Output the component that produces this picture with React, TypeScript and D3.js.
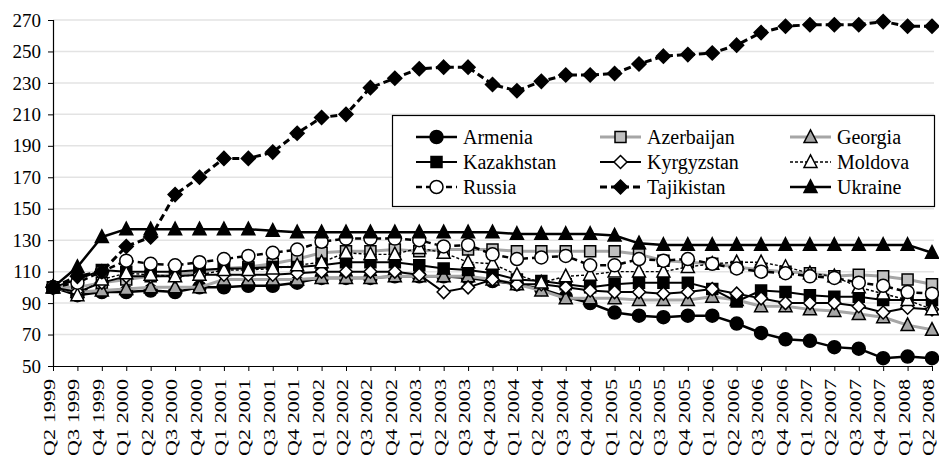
import { useEffect, useRef } from "react";
import * as d3 from "d3";

// ---- data ----
const quarters = [
  "Q2 1999", "Q3 1999", "Q4 1999", "Q1 2000", "Q2 2000", "Q3 2000", "Q4 2000",
  "Q1 2001", "Q2 2001", "Q3 2001", "Q4 2001", "Q1 2002", "Q2 2002", "Q3 2002",
  "Q4 2002", "Q1 2003", "Q2 2003", "Q3 2003", "Q4 2003", "Q1 2004", "Q2 2004",
  "Q3 2004", "Q4 2004", "Q1 2005", "Q2 2005", "Q3 2005", "Q4 2005", "Q1 2006",
  "Q2 2006", "Q3 2006", "Q4 2006", "Q1 2007", "Q2 2007", "Q3 2007", "Q4 2007",
  "Q1 2008", "Q2 2008",
];

const yTicks = [50, 70, 90, 110, 130, 150, 170, 190, 210, 230, 250, 270];

const armenia = [100, 95, 97, 97, 98, 97, 100, 100, 101, 101, 103, 106, 106, 106, 107, 107, 107, 106, 104, 102, 99, 94, 90, 84, 82, 81, 82, 82, 77, 71, 67, 66, 62, 61, 55, 56, 55];
const azerbaijan = [100, 100, 103, 105, 107, 108, 110, 112, 113, 115, 118, 122, 123, 123, 124, 123, 124, 124, 124, 123, 123, 123, 123, 123, 121, 117, 116, 115, 113, 111, 110, 109, 107, 108, 107, 105, 102];
const georgia = [100, 97, 98, 99, 100, 100, 100, 105, 105, 105, 105, 106, 106, 106, 107, 107, 107, 107, 105, 102, 98, 93, 93, 93, 92, 92, 92, 94, 92, 88, 88, 86, 85, 83, 81, 76, 73];
const kazakhstan = [100, 105, 111, 110, 110, 110, 111, 112, 112, 113, 113, 114, 116, 116, 116, 114, 112, 111, 109, 105, 104, 102, 100, 102, 103, 103, 103, 99, 91, 98, 97, 95, 94, 94, 92, 92, 92];
const kyrgyzstan = [100, 97, 103, 107, 107, 107, 108, 108, 108, 108, 109, 110, 110, 110, 110, 108, 97, 100, 105, 102, 102, 100, 98, 97, 97, 96, 97, 99, 96, 93, 90, 90, 90, 88, 84, 87, 86];
const moldova = [100, 95, 105, 109, 108, 107, 108, 111, 111, 112, 114, 116, 122, 121, 121, 125, 122, 116, 115, 108, 103, 107, 108, 110, 110, 110, 113, 115, 116, 116, 113, 109, 107, 100, 96, 92, 86];
const russia = [100, 103, 110, 117, 115, 114, 116, 118, 120, 122, 124, 129, 131, 131, 131, 130, 126, 127, 121, 118, 119, 120, 114, 114, 118, 117, 118, 115, 112, 110, 109, 107, 106, 103, 101, 97, 96];
const tajikistan = [100, 107, 110, 126, 132, 159, 170, 182, 182, 186, 198, 208, 210, 227, 233, 239, 240, 240, 229, 225, 231, 235, 235, 236, 242, 247, 248, 249, 254, 262, 266, 267, 267, 267, 269, 266, 266];
const ukraine = [100, 113, 132, 137, 137, 137, 137, 137, 137, 136, 135, 135, 135, 135, 135, 135, 135, 135, 135, 134, 134, 134, 134, 133, 128, 127, 127, 127, 127, 127, 127, 127, 127, 127, 127, 127, 122];

type Sym = "circle" | "square" | "triangle" | "diamond";
interface Series {
  name: string;
  values: number[];
  stroke: string;
  width: number;
  dash: string | null;
  symbol: Sym;
  fill: string;
  size: number;
}

const series: Series[] = [
  { name: "Armenia", values: armenia, stroke: "#000", width: 2.5, dash: null, symbol: "circle", fill: "#000", size: 13 },
  { name: "Azerbaijan", values: azerbaijan, stroke: "#a6a6a6", width: 3, dash: null, symbol: "square", fill: "#c0c0c0", size: 11 },
  { name: "Georgia", values: georgia, stroke: "#a6a6a6", width: 3, dash: null, symbol: "triangle", fill: "#a6a6a6", size: 13 },
  { name: "Kazakhstan", values: kazakhstan, stroke: "#000", width: 2, dash: null, symbol: "square", fill: "#000", size: 11 },
  { name: "Kyrgyzstan", values: kyrgyzstan, stroke: "#000", width: 2, dash: null, symbol: "diamond", fill: "#fff", size: 12 },
  { name: "Moldova", values: moldova, stroke: "#000", width: 1.4, dash: "3,2", symbol: "triangle", fill: "#fff", size: 13 },
  { name: "Russia", values: russia, stroke: "#000", width: 2.5, dash: "6,4", symbol: "circle", fill: "#fff", size: 13 },
  { name: "Tajikistan", values: tajikistan, stroke: "#000", width: 3, dash: "7,4", symbol: "diamond", fill: "#000", size: 13 },
  { name: "Ukraine", values: ukraine, stroke: "#000", width: 2.5, dash: null, symbol: "triangle", fill: "#000", size: 13 },
];

function markerPath(sym: Sym, s: number): string {
  const h = s / 2;
  if (sym === "circle") return d3.symbol(d3.symbolCircle, Math.PI * h * h)() as string;
  if (sym === "square") return `M${-h},${-h}H${h}V${h}H${-h}Z`;
  if (sym === "diamond") return `M0,${-h - 0.5}L${h + 0.5},0L0,${h + 0.5}L${-h - 0.5},0Z`;
  return `M0,${-s * 0.55}L${h},${s * 0.42}L${-h},${s * 0.42}Z`;
}

const FONT = '"Liberation Serif", "DejaVu Serif", serif';

export default function App() {
  const ref = useRef<SVGSVGElement>(null);

  useEffect(() => {
    const svg = d3.select(ref.current);
    svg.selectAll("*").remove();

    const left = 53, right = 932, top = 20, bottom = 366;
    const x = d3.scalePoint<number>().domain(d3.range(quarters.length)).range([left, right]);
    const y = d3.scaleLinear().domain([50, 270]).range([bottom, top]);

    // gridlines
    svg.append("g")
      .selectAll("line")
      .data(yTicks.slice(1))
      .join("line")
      .attr("x1", left).attr("x2", right + 2)
      .attr("y1", d => y(d)).attr("y2", d => y(d))
      .attr("stroke", "#e3e3e3").attr("stroke-width", 1.5);

    // y axis
    const yAxis = svg.append("g")
      .attr("transform", `translate(${left},0)`)
      .call(d3.axisLeft(y).tickValues(yTicks).tickSize(5).tickPadding(7));
    yAxis.attr("font-family", null);
    yAxis.select(".domain").attr("stroke", "#000").attr("stroke-width", 1.2);
    yAxis.selectAll(".tick line").attr("stroke", "#000");
    yAxis.selectAll(".tick text")
      .style("font-family", FONT).style("font-size", "19px").attr("fill", "#000");

    // x axis
    const xAxis = svg.append("g")
      .attr("transform", `translate(0,${bottom})`)
      .call(d3.axisBottom(x).tickSize(5).tickSizeOuter(0).tickFormat(() => ""));
    xAxis.select(".domain").attr("stroke", "#000").attr("stroke-width", 1.2);
    xAxis.selectAll(".tick line").attr("stroke", "#000");

    svg.append("g")
      .selectAll("text")
      .data(quarters)
      .join("text")
      .attr("transform", (_, i) => `translate(${(x(i) as number) + 2},${bottom + 13}) rotate(-90)`)
      .attr("text-anchor", "end")
      .style("font-family", FONT)
      .style("font-size", "16px")
      .attr("textLength", 77)
      .attr("lengthAdjust", "spacingAndGlyphs")
      .text(d => d);

    // series
    const line = d3.line<number>().x((_, i) => x(i) as number).y(d => y(d));
    series.forEach(s => {
      const g = svg.append("g");
      g.append("path")
        .datum(s.values)
        .attr("fill", "none")
        .attr("stroke", s.stroke)
        .attr("stroke-width", s.width)
        .attr("stroke-dasharray", s.dash)
        .attr("stroke-linejoin", "round")
        .attr("d", line);
      g.selectAll("path.m")
        .data(s.values)
        .join("path")
        .attr("class", "m")
        .attr("transform", (d, i) => `translate(${x(i)},${y(d)})`)
        .attr("d", markerPath(s.symbol, s.size))
        .attr("fill", s.fill)
        .attr("stroke", "#000")
        .attr("stroke-width", 1.5);
    });

    // legend
    const lg = svg.append("g");
    lg.append("rect")
      .attr("x", 392.5).attr("y", 115.5).attr("width", 542).attr("height", 91)
      .attr("fill", "#fff").attr("stroke", "#000").attr("stroke-width", 1.2);
    const colX = [416, 600, 790];
    const rowY = [137, 162, 187];
    series.forEach((s, k) => {
      const cx = colX[k % 3], cy = rowY[Math.floor(k / 3)];
      lg.append("line")
        .attr("x1", cx).attr("x2", cx + 41).attr("y1", cy).attr("y2", cy)
        .attr("stroke", s.stroke).attr("stroke-width", s.width)
        .attr("stroke-dasharray", s.dash);
      lg.append("path")
        .attr("transform", `translate(${cx + 20.5},${cy})`)
        .attr("d", markerPath(s.symbol, s.size))
        .attr("fill", s.fill).attr("stroke", "#000").attr("stroke-width", 1.5);
      lg.append("text")
        .attr("x", cx + 47).attr("y", cy).attr("dy", "0.34em")
        .style("font-family", FONT).style("font-size", "20px")
        .text(s.name);
    });
  }, []);

  return (
    <div style={{ position: "absolute", left: 0, top: 0 }}>
      <svg ref={ref} width={939} height={458} style={{ display: "block", background: "#fff" }} />
    </div>
  );
}
